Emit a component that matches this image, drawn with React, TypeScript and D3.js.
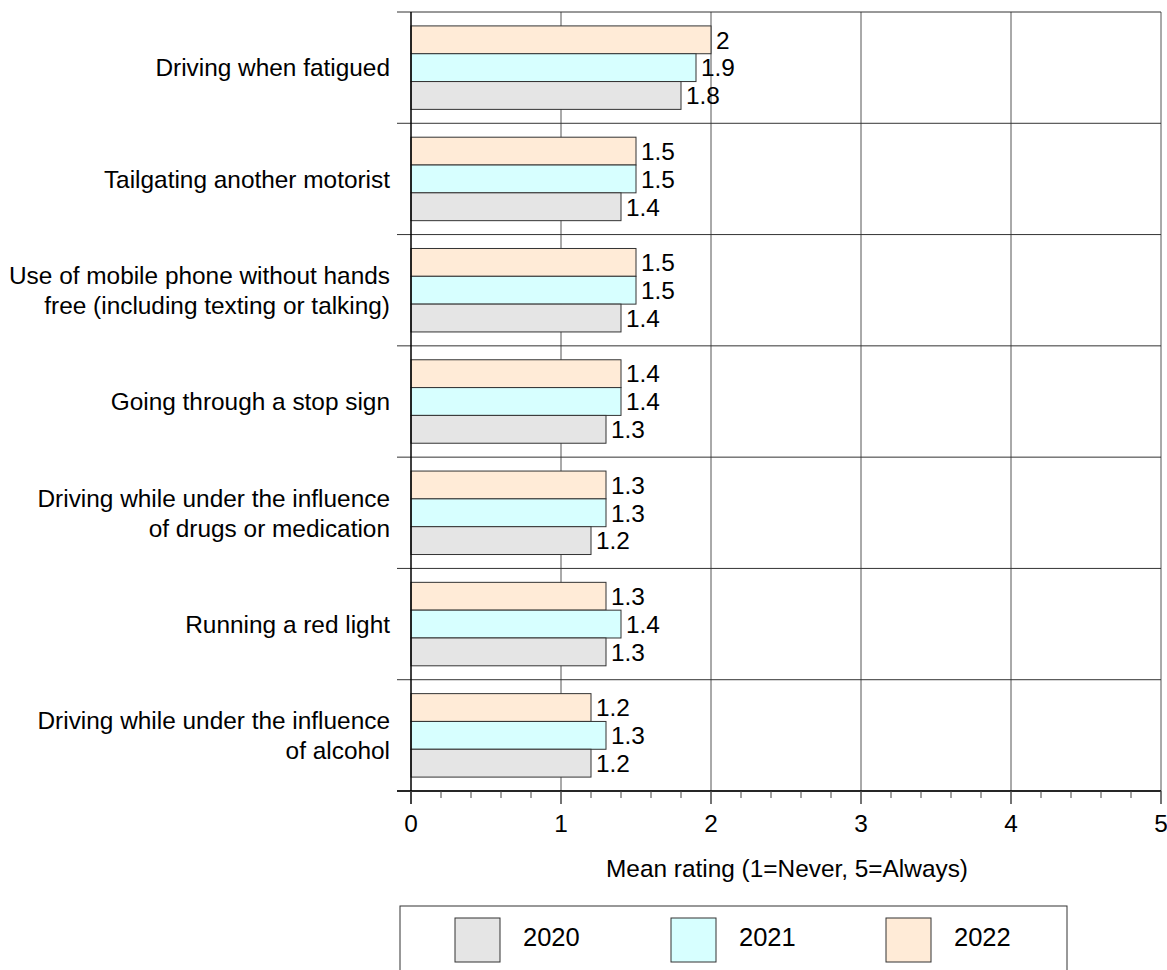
import React from "react";
import * as d3 from "d3";

const categories: string[][] = [
  ["Driving when fatigued"],
  ["Tailgating another motorist"],
  ["Use of mobile phone without hands", "free (including texting or talking)"],
  ["Going through a stop sign"],
  ["Driving while under the influence", "of drugs or medication"],
  ["Running a red light"],
  ["Driving while under the influence", "of alcohol"],
];
const values2020 = [1.8, 1.4, 1.4, 1.3, 1.2, 1.3, 1.2];
const values2021 = [1.9, 1.5, 1.5, 1.4, 1.3, 1.4, 1.3];
const values2022 = [2.0, 1.5, 1.5, 1.4, 1.3, 1.3, 1.2];
const seriesNames = ["2022", "2021", "2020"];
const legendOrder = ["2020", "2021", "2022"];
const xTicks = [0, 1, 2, 3, 4, 5];
const axisTitle = "Mean rating (1=Never, 5=Always)";

const colors: Record<string, string> = {
  "2020": "#e5e5e5",
  "2021": "#d7ffff",
  "2022": "#ffebd7",
};

const W = 1167;
const H = 970;
const left = 411;
const right = 1161;
const top = 12;
const bottom = 791;
const FONT = "'Liberation Sans', Arial, Helvetica, sans-serif";

export default function App() {
  const x = d3.scaleLinear().domain([0, 5]).range([left, right]);
  const idx = categories.map((_, i) => i);
  const y = d3.scaleBand<number>().domain(idx).range([top, bottom]).paddingInner(0).paddingOuter(0);
  const inner = d3
    .scaleBand<string>()
    .domain(seriesNames)
    .range([0, y.bandwidth()])
    .paddingOuter(0.5)
    .paddingInner(0);
  const seriesVals: Record<string, number[]> = {
    "2020": values2020,
    "2021": values2021,
    "2022": values2022,
  };
  const minorTicks = d3.range(0, 5.0001, 0.2).filter((t) => Math.abs(t - Math.round(t)) > 1e-6);
  const separators = d3.range(0, categories.length + 1).map((i) =>
    i < categories.length ? (y(i) as number) : bottom
  );
  const fs = 24.4;

  const legendX = [455, 671, 886];

  return (
    <svg
      width={W}
      height={H}
      style={{ position: "absolute", left: 0, top: 0, background: "#fff" }}
      fontFamily={FONT}
    >
      {/* vertical gridlines */}
      {xTicks.slice(1).map((t) => (
        <line key={"g" + t} x1={x(t)} x2={x(t)} y1={top} y2={bottom} stroke="#555" strokeWidth={1} />
      ))}
      {/* horizontal separators */}
      {separators.map((sy, i) => (
        <line key={"s" + i} x1={397} x2={right} y1={sy} y2={sy} stroke="#333" strokeWidth={1} />
      ))}
      {/* bars */}
      {categories.map((_, i) =>
        seriesNames.map((s) => {
          const v = seriesVals[s][i];
          const by = (y(i) as number) + (inner(s) as number);
          const bh = inner.bandwidth();
          return (
            <g key={s + i}>
              <rect
                x={x(0)}
                y={by}
                width={x(v) - x(0)}
                height={bh}
                fill={colors[s]}
                stroke="#333"
                strokeWidth={1}
              />
              <text x={x(v) + 5} y={by + bh / 2} dy="0.36em" fontSize={fs} fill="#000">
                {String(v)}
              </text>
            </g>
          );
        })
      )}
      {/* category labels */}
      {categories.map((lines, i) => {
        const cy = (y(i) as number) + y.bandwidth() / 2;
        const lh = 30;
        return (
          <text key={"c" + i} x={390} textAnchor="end" fontSize={fs} fill="#000">
            {lines.map((ln, j) => (
              <tspan key={j} x={390} y={cy + (j - (lines.length - 1) / 2) * lh} dy="0.36em">
                {ln}
              </tspan>
            ))}
          </text>
        );
      })}
      {/* axes */}
      <line x1={x(0)} x2={x(0)} y1={top} y2={804} stroke="#000" strokeWidth={1.5} />
      <line x1={397} x2={right} y1={bottom} y2={bottom} stroke="#000" strokeWidth={1.5} />
      {xTicks.map((t) => (
        <line key={"mt" + t} x1={x(t)} x2={x(t)} y1={bottom} y2={804} stroke="#444" strokeWidth={1.5} />
      ))}
      {minorTicks.map((t) => (
        <line key={"nt" + t} x1={x(t)} x2={x(t)} y1={bottom} y2={798} stroke="#444" strokeWidth={1} />
      ))}
      {xTicks.map((t) => (
        <text key={"tl" + t} x={x(t)} y={823} dy="0.36em" textAnchor="middle" fontSize={fs} fill="#000">
          {String(t)}
        </text>
      ))}
      <text x={(left + right) / 2 + 1} y={868} dy="0.36em" textAnchor="middle" fontSize={fs} fill="#000">
        {axisTitle}
      </text>
      {/* legend */}
      <rect x={400} y={906} width={667} height={120} fill="#fff" stroke="#333" strokeWidth={1} />
      {legendOrder.map((s, i) => (
        <g key={"l" + s}>
          <rect x={legendX[i]} y={918} width={45} height={44} fill={colors[s]} stroke="#333" strokeWidth={1} />
          <text x={legendX[i] + 68} y={937} dy="0.36em" fontSize={25.5} fill="#000">
            {s}
          </text>
        </g>
      ))}
    </svg>
  );
}
